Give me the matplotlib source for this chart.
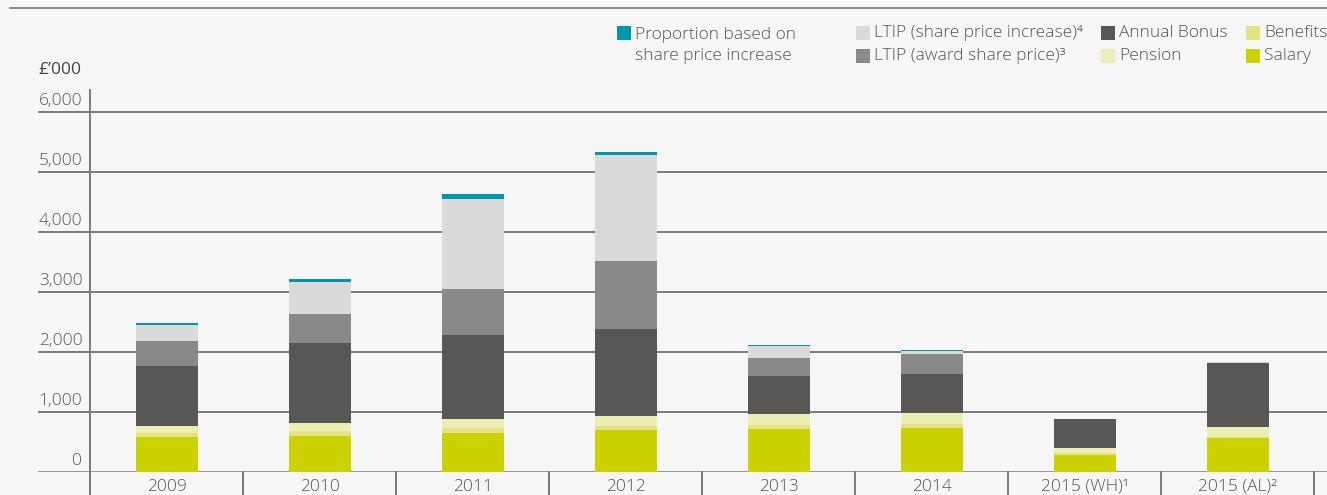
import matplotlib
matplotlib.use("Agg")
import matplotlib.pyplot as plt
import matplotlib.transforms as mtransforms
from matplotlib.patches import Rectangle
import numpy as np

plt.rcParams["font.family"] = ["Open Sans", "DejaVu Sans"]
plt.rcParams["font.weight"] = "light"

# values in £'000, stacked from the bottom up
years = ["2009", "2010", "2011", "2012", "2013", "2014", "2015 (WH)¹", "2015 (AL)²"]
salary = [583, 600, 650, 700, 717, 733, 283, 567]
benefits = [67, 83, 83, 67, 67, 67, 33, 17]
pension = [117, 133, 150, 167, 183, 183, 83, 167]
annual_bonus = [1000, 1333, 1400, 1450, 633, 650, 483, 1067]
ltip_award = [417, 483, 767, 1133, 300, 333, 0, 0]
ltip_increase = [267, 533, 1500, 1767, 205, 50, 0, 17]
share_price_part = [25, 50, 83, 50, 17, 17, 0, 0]

y_ticks = [0, 1000, 2000, 3000, 4000, 5000, 6000]
y_tick_labels = ["0", "1,000", "2,000", "3,000", "4,000", "5,000", "6,000"]

series = [
    ("Salary", salary, "#ccd200"),
    ("Benefits", benefits, "#e1e385"),
    ("Pension", pension, "#edeeb3"),
    ("Annual Bonus", annual_bonus, "#575755"),
    ("LTIP (award share price)³", ltip_award, "#898989"),
    ("LTIP (share price increase)⁴", ltip_increase, "#dadada"),
    ("Proportion based on\nshare price increase", share_price_part, "#0097aa"),
]

BG = "#f6f6f6"
TEXT = "#555555"
LINE = "#7a7a7a"
W, H = 1327, 495

fig = plt.figure(figsize=(W / 100, H / 100), dpi=100, facecolor=BG)
# axes: left at px 38, right at figure edge, bottom px 472, top px 90
ax = fig.add_axes([38 / W, (H - 472) / H, (W - 38) / W, (472 - 90) / H], facecolor=BG)

x = np.arange(len(years))
bottom = np.zeros(len(years))
for name, values, color in series:
    ax.bar(x, values, width=0.405, bottom=bottom, color=color, linewidth=0, zorder=3)
    bottom += np.array(values)

ax.set_xlim(-0.843, 7.582)
ax.set_ylim(0, 6367)
for s in ax.spines.values():
    s.set_visible(False)
ax.set_xticks([])
ax.set_yticks([])

for v in y_ticks:
    ax.axhline(v, color=LINE, lw=1.4 if v else 1.8, zorder=1)

label_tr = mtransforms.offset_copy(ax.transData, fig=fig, x=-8, y=3, units="dots")
for v, lab in zip(y_ticks, y_tick_labels):
    ax.text(-0.5, v, lab, transform=label_tr, ha="right", va="bottom",
            fontsize=12.5, color=TEXT)

sep_tr = mtransforms.blended_transform_factory(ax.transData, ax.transAxes)
ax.plot([-0.5, -0.5], [-0.07, 1.0], transform=sep_tr, color=LINE, lw=1.4, clip_on=False)
for b in np.arange(0.5, len(years), 1.0):
    ax.plot([b, b], [-0.07, 0.0], transform=sep_tr, color=LINE, lw=1.4, clip_on=False)

for xi, lab in zip(x, years):
    ax.text(xi, -0.018, lab, transform=sep_tr, ha="center", va="top",
            fontsize=12.5, color=TEXT)

fig.text(38 / W, 1 - 70 / H, "£’000", ha="left", va="center", fontsize=12.5,
         color="#444444", fontweight="normal")

# top rule (title border)
fig.add_artist(plt.Line2D([10 / W, 1.0], [1 - 8 / H, 1 - 8 / H], color="#8a8a8a", lw=1.4))

# legend
legend_items = [
    (617, 26, "Proportion based on\nshare price increase", "#0097aa"),
    (856, 26, "LTIP (share price increase)⁴", "#dadada"),
    (856, 49, "LTIP (award share price)³", "#898989"),
    (1101, 26, "Annual Bonus", "#575755"),
    (1101, 49, "Pension", "#edeeb3"),
    (1246, 26, "Benefits", "#e1e385"),
    (1246, 49, "Salary", "#ccd200"),
]
for px, py, lab, color in legend_items:
    fig.add_artist(Rectangle((px / W, 1 - (py + 14) / H), 14 / W, 14 / H,
                             transform=fig.transFigure, color=color, lw=0))
    cy = py + 7 if "\n" not in lab else 45.5
    fig.text((px + 18) / W, 1 - cy / H, lab, ha="left", va="center",
             fontsize=12.5, color=TEXT, linespacing=1.4)

fig.savefig("out.png", dpi=100, facecolor=BG)
